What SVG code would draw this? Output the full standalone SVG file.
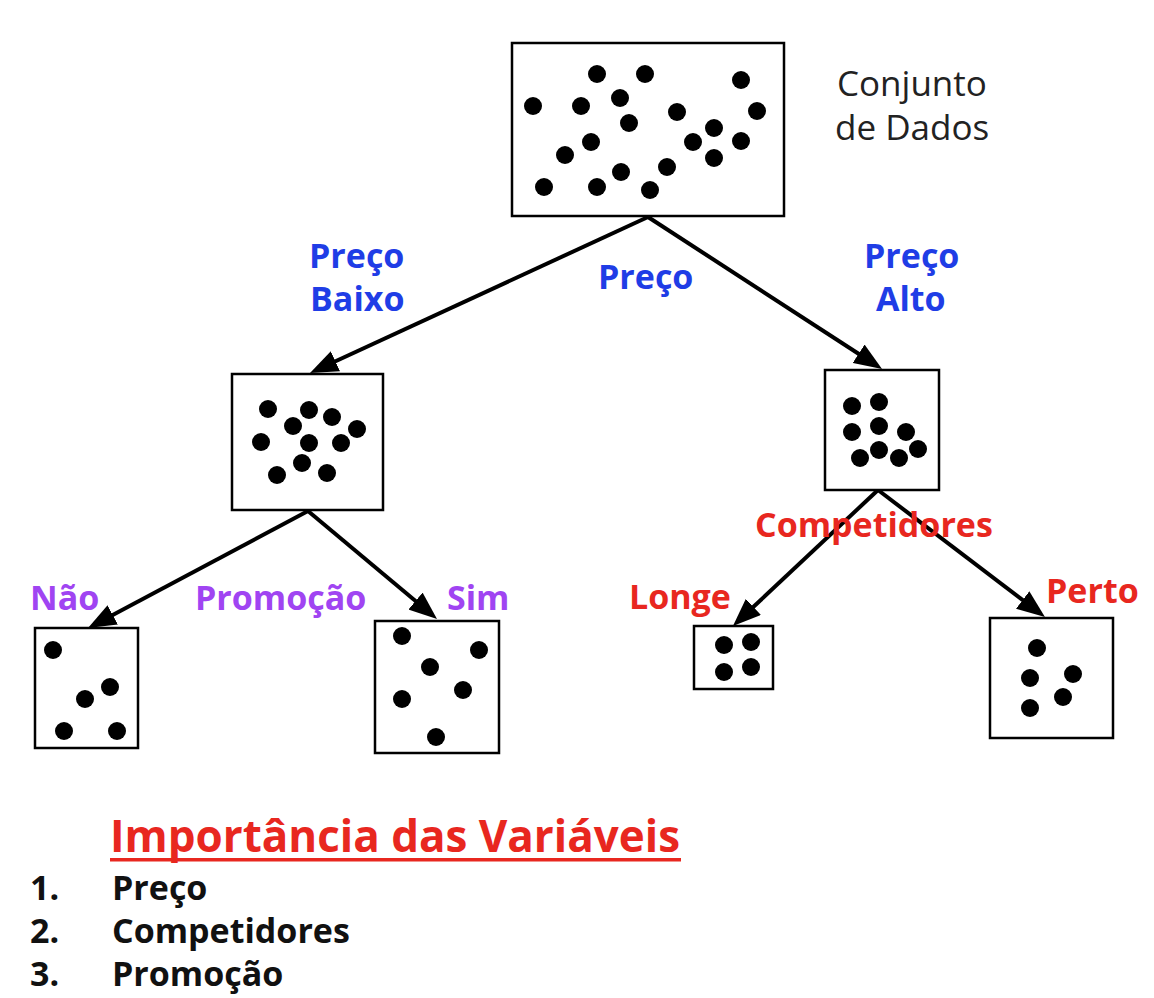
<svg xmlns="http://www.w3.org/2000/svg" width="1154" height="998" viewBox="0 0 1154 998">
<defs>
<marker id="ah" markerUnits="userSpaceOnUse" markerWidth="28" markerHeight="22" refX="16" refY="11" orient="auto">
<path d="M0,0 L28,11 L0,22 z" fill="#000"/>
</marker>
<style>
.box{fill:#fff;stroke:#000;stroke-width:2.5}
.dot{fill:#000}
.edge{stroke:#000;stroke-width:4;fill:none;marker-end:url(#ah)}
.lbl{font-family:"Open Sans","Noto Sans",sans-serif;font-weight:700;font-size:34px}
.blue{fill:#1f3de6}
.purple{fill:#a044f2}
.red{fill:#e8271f}
.note{font-family:"Open Sans","Noto Sans",sans-serif;font-size:35px;fill:#222}
.list{font-family:"Open Sans","Noto Sans",sans-serif;font-weight:700;font-size:34px;fill:#111}
</style>
</defs>
<rect width="1154" height="998" fill="#fff"/>

<g id="connectors">
<line class="edge" x1="648" y1="217" x2="320.9" y2="368"/>
<line class="edge" x1="648" y1="217" x2="872" y2="362.5"/>
<line class="edge" x1="308" y1="511" x2="98.6" y2="622.4"/>
<line class="edge" x1="308" y1="511" x2="427.8" y2="611.3"/>
<line class="edge" x1="878" y1="490" x2="741.7" y2="617.8"/>
<line class="edge" x1="878" y1="490" x2="1035.4" y2="609.7"/>
</g>

<g id="root">
<rect class="box" x="512" y="43" width="272" height="173"/>
<g class="dot">
<circle cx="597" cy="74" r="9"/><circle cx="645" cy="74" r="9"/><circle cx="741" cy="80" r="9"/>
<circle cx="533" cy="106" r="9"/><circle cx="581" cy="106" r="9"/><circle cx="620" cy="98" r="9"/>
<circle cx="677" cy="112" r="9"/><circle cx="757" cy="111" r="9"/><circle cx="629" cy="123" r="9"/>
<circle cx="714" cy="128" r="9"/><circle cx="591" cy="142" r="9"/><circle cx="693" cy="142" r="9"/>
<circle cx="741" cy="141" r="9"/><circle cx="565" cy="155" r="9"/><circle cx="714" cy="158" r="9"/>
<circle cx="667" cy="167" r="9"/><circle cx="621" cy="172" r="9"/><circle cx="544" cy="187" r="9"/>
<circle cx="597" cy="187" r="9"/><circle cx="650" cy="190" r="9"/>
</g>
<text class="note" x="837" y="96">Conjunto</text>
<text class="note" x="835" y="140">de Dados</text>
</g>

<g id="low-price">
<rect class="box" x="232" y="374" width="151" height="136"/>
<g class="dot">
<circle cx="268" cy="409" r="9"/><circle cx="309" cy="410" r="9"/><circle cx="332" cy="417" r="9"/>
<circle cx="293" cy="426" r="9"/><circle cx="357" cy="429" r="9"/><circle cx="261" cy="442" r="9"/>
<circle cx="309" cy="443" r="9"/><circle cx="341" cy="443" r="9"/><circle cx="302" cy="463" r="9"/>
<circle cx="277" cy="475" r="9"/><circle cx="327" cy="473" r="9"/>
</g>
</g>

<g id="high-price">
<rect class="box" x="825" y="370" width="114" height="120"/>
<g class="dot">
<circle cx="852" cy="406" r="9"/><circle cx="879" cy="402" r="9"/><circle cx="852" cy="432" r="9"/>
<circle cx="879" cy="426" r="9"/><circle cx="906" cy="432" r="9"/><circle cx="879" cy="450" r="9"/>
<circle cx="860" cy="458" r="9"/><circle cx="899" cy="458" r="9"/><circle cx="918" cy="449" r="9"/>
</g>
</g>

<g id="no-promo">
<rect class="box" x="35" y="628" width="103" height="120"/>
<g class="dot">
<circle cx="53" cy="650" r="9"/><circle cx="110" cy="687" r="9"/><circle cx="85" cy="699" r="9"/>
<circle cx="64" cy="731" r="9"/><circle cx="117" cy="731" r="9"/>
</g>
</g>

<g id="yes-promo">
<rect class="box" x="375" y="621" width="124" height="132"/>
<g class="dot">
<circle cx="402" cy="636" r="9"/><circle cx="479" cy="650" r="9"/><circle cx="430" cy="667" r="9"/>
<circle cx="463" cy="690" r="9"/><circle cx="402" cy="699" r="9"/><circle cx="436" cy="737" r="9"/>
</g>
</g>

<g id="far">
<rect class="box" x="694" y="626" width="79" height="63"/>
<g class="dot">
<circle cx="724" cy="645" r="9"/><circle cx="751" cy="642" r="9"/>
<circle cx="724" cy="672" r="9"/><circle cx="751" cy="667" r="9"/>
</g>
</g>

<g id="near">
<rect class="box" x="990" y="618" width="123" height="120"/>
<g class="dot">
<circle cx="1037" cy="648" r="9"/><circle cx="1030" cy="678" r="9"/><circle cx="1073" cy="674" r="9"/>
<circle cx="1063" cy="697" r="9"/><circle cx="1030" cy="708" r="9"/>
</g>
</g>

<g id="labels">
<text class="lbl blue" x="309" y="268">Preço</text>
<text class="lbl blue" x="310" y="311">Baixo</text>
<text class="lbl blue" x="598" y="289">Preço</text>
<text class="lbl blue" x="864" y="268">Preço</text>
<text class="lbl blue" x="876" y="311">Alto</text>
<text class="lbl purple" x="30" y="610">Não</text>
<text class="lbl purple" x="195" y="610">Promoção</text>
<text class="lbl purple" x="447" y="610">Sim</text>
<text class="lbl red" x="755" y="537">Competidores</text>
<text class="lbl red" x="629" y="609">Longe</text>
<text class="lbl red" x="1046" y="603">Perto</text>
</g>

<g id="importance">
<text x="110" y="852" font-family="Open Sans, Noto Sans, sans-serif" font-weight="700" font-size="45" fill="#e8271f" textLength="570" lengthAdjust="spacingAndGlyphs">Importância das Variáveis</text>
<rect x="110" y="858" width="571" height="3.5" fill="#e8271f"/>
<text class="list" x="30" y="900">1.</text>
<text class="list" x="112" y="900">Preço</text>
<text class="list" x="30" y="943">2.</text>
<text class="list" x="112" y="943">Competidores</text>
<text class="list" x="30" y="986">3.</text>
<text class="list" x="112" y="986">Promoção</text>
</g>
</svg>
